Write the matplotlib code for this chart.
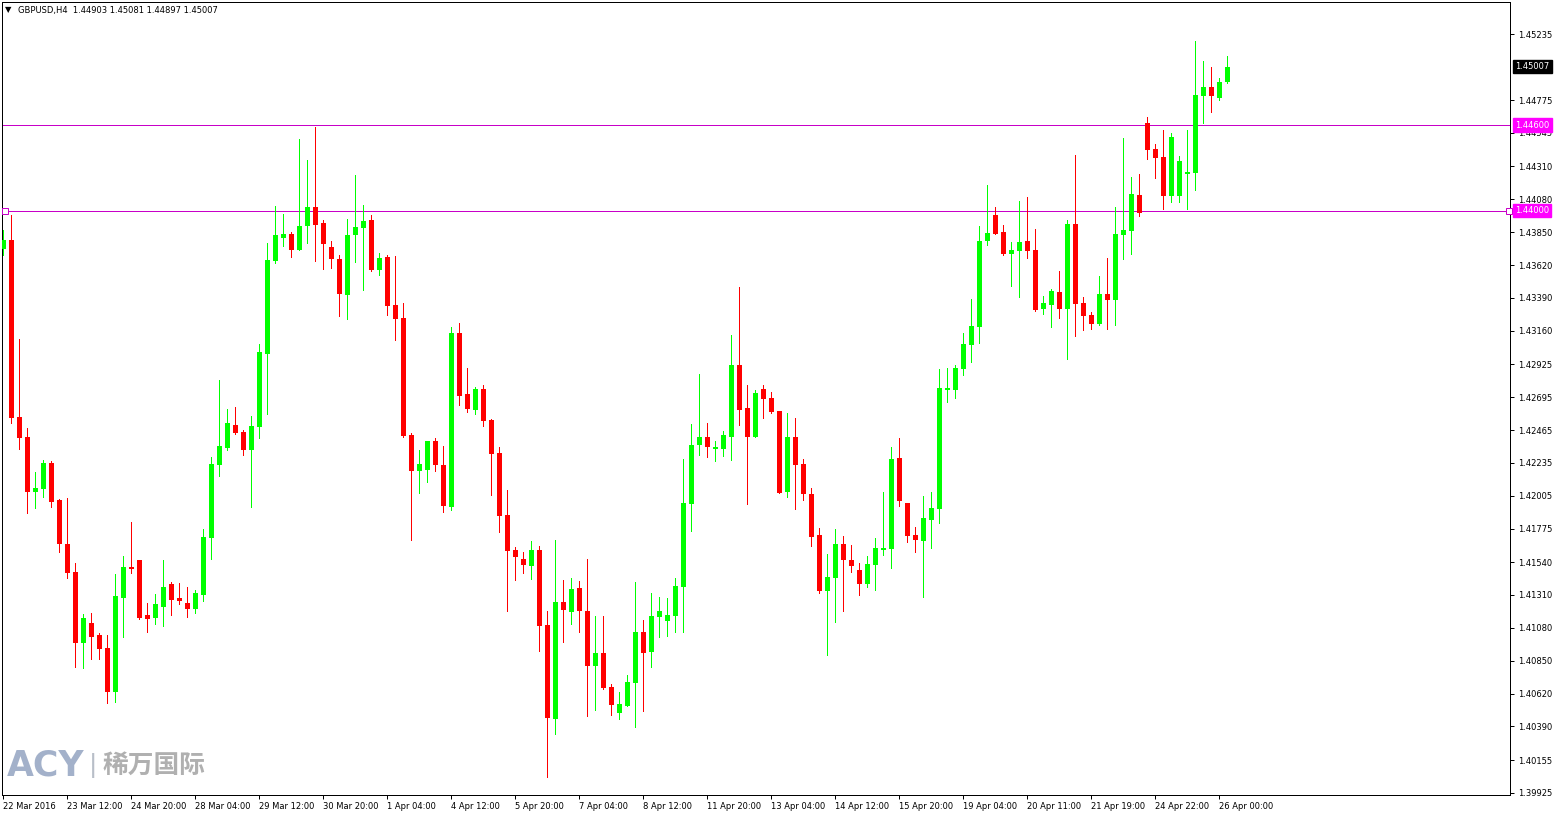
import numpy as np
import matplotlib.pyplot as plt

# GBPUSD H4 candles (index 0 = 22 Mar 2016)
opens = [
    1.43732, 1.43795, 1.42556, 1.42416, 1.42031, 1.42052, 1.42234, 1.41975, 1.41667, 1.41471,
    1.40974, 1.41114, 1.41030, 1.40939, 1.40631, 1.41289, 1.41506, 1.41555, 1.41170, 1.41149,
    1.41226, 1.41387, 1.41289, 1.41254, 1.41212, 1.41310, 1.41709, 1.42220, 1.42339, 1.42500,
    1.42451, 1.42325, 1.42486, 1.42997, 1.43648, 1.43809, 1.43837, 1.43725, 1.43893, 1.44026,
    1.43914, 1.43746, 1.43662, 1.43410, 1.43830, 1.43879, 1.43935, 1.43585, 1.43676, 1.43340,
    1.43249, 1.42430, 1.42178, 1.42185, 1.42388, 1.42220, 1.41926, 1.43144, 1.42717, 1.42605,
    1.42752, 1.42535, 1.42304, 1.41870, 1.41625, 1.41562, 1.41513, 1.41625, 1.41100, 1.40442,
    1.41261, 1.41191, 1.41359, 1.41198, 1.40813, 1.40904, 1.40666, 1.40484, 1.40533, 1.40694,
    1.41051, 1.40911, 1.41156, 1.41128, 1.41163, 1.41366, 1.41947, 1.42360, 1.42416, 1.42332,
    1.42332, 1.42416, 1.42920, 1.42619, 1.42416, 1.42752, 1.42689, 1.42598, 1.42031, 1.42416,
    1.42227, 1.42017, 1.41730, 1.41338, 1.41429, 1.41667, 1.41555, 1.41485, 1.41387, 1.41520,
    1.41625, 1.41632, 1.42269, 1.41954, 1.41730, 1.41688, 1.41835, 1.41912, 1.42745, 1.42745,
    1.42892, 1.43060, 1.43186, 1.43788, 1.43970, 1.43851, 1.43697, 1.43718, 1.43788, 1.43725,
    1.43312, 1.43340, 1.43431, 1.43312, 1.43907, 1.43354, 1.43270, 1.43207, 1.43417, 1.43375,
    1.43830, 1.43858, 1.44110, 1.44614, 1.44432, 1.44376, 1.44103, 1.44103, 1.44257, 1.44264,
    1.44803, 1.44866, 1.44789, 1.44903,
]
highs = [
    1.43865, 1.43970, 1.43102, 1.42479, 1.42171, 1.42255, 1.42248, 1.41982, 1.41989, 1.41534,
    1.41177, 1.41184, 1.41044, 1.41030, 1.41457, 1.41583, 1.41821, 1.41555, 1.41254, 1.41317,
    1.41555, 1.41401, 1.41394, 1.41366, 1.41345, 1.41772, 1.42276, 1.42815, 1.42612, 1.42626,
    1.42465, 1.42563, 1.43067, 1.43774, 1.44033, 1.43977, 1.43851, 1.44502, 1.44355, 1.44586,
    1.43935, 1.43788, 1.43690, 1.43942, 1.44250, 1.44040, 1.43970, 1.43704, 1.43690, 1.43683,
    1.43354, 1.42444, 1.42325, 1.42388, 1.42409, 1.42353, 1.43186, 1.43214, 1.42899, 1.42766,
    1.42780, 1.42542, 1.42346, 1.42045, 1.41646, 1.41611, 1.41688, 1.41653, 1.41198, 1.41695,
    1.41415, 1.41429, 1.41408, 1.41562, 1.41163, 1.41163, 1.40687, 1.40631, 1.40750, 1.41401,
    1.41135, 1.41324, 1.41296, 1.41289, 1.41429, 1.42262, 1.42507, 1.42857, 1.42514, 1.42388,
    1.42458, 1.43130, 1.43466, 1.42780, 1.42745, 1.42780, 1.42731, 1.42598, 1.42584, 1.42549,
    1.42262, 1.42059, 1.41779, 1.41597, 1.41772, 1.41723, 1.41660, 1.41534, 1.41583, 1.41709,
    1.42031, 1.42346, 1.42409, 1.41954, 1.41786, 1.42003, 1.42031, 1.42892, 1.42899, 1.42920,
    1.43144, 1.43382, 1.43893, 1.44180, 1.44026, 1.43900, 1.43781, 1.44068, 1.44096, 1.43872,
    1.43403, 1.43452, 1.43578, 1.43935, 1.44390, 1.43396, 1.43291, 1.43543, 1.43669, 1.44026,
    1.44509, 1.44236, 1.44257, 1.44656, 1.44467, 1.44565, 1.44544, 1.44383, 1.44565, 1.45188,
    1.45048, 1.45006, 1.44929, 1.45081,
]
lows = [
    1.43690, 1.42514, 1.42332, 1.41884, 1.41919, 1.41996, 1.41926, 1.41611, 1.41429, 1.40806,
    1.40799, 1.40862, 1.40862, 1.40554, 1.40561, 1.41016, 1.41464, 1.41142, 1.41051, 1.41107,
    1.41093, 1.41170, 1.41247, 1.41156, 1.41184, 1.41268, 1.41562, 1.42143, 1.42325, 1.42437,
    1.42290, 1.41926, 1.42409, 1.42577, 1.43634, 1.43753, 1.43676, 1.43725, 1.43774, 1.43648,
    1.43592, 1.43599, 1.43263, 1.43242, 1.43641, 1.43445, 1.43578, 1.43550, 1.43270, 1.43095,
    1.42416, 1.41695, 1.42024, 1.42101, 1.42178, 1.41891, 1.41905, 1.42640, 1.42591, 1.42577,
    1.42493, 1.42010, 1.41751, 1.41198, 1.41415, 1.41464, 1.41422, 1.40918, 1.40036, 1.40337,
    1.40981, 1.41107, 1.41051, 1.40463, 1.40505, 1.40652, 1.40470, 1.40442, 1.40533, 1.40386,
    1.40498, 1.40806, 1.41016, 1.41023, 1.41051, 1.41051, 1.41758, 1.42290, 1.42276, 1.42248,
    1.42283, 1.42255, 1.42500, 1.41947, 1.42416, 1.42549, 1.42584, 1.42024, 1.41996, 1.41912,
    1.41975, 1.41653, 1.41324, 1.40890, 1.41121, 1.41198, 1.41471, 1.41310, 1.41366, 1.41345,
    1.41590, 1.41499, 1.41933, 1.41681, 1.41611, 1.41296, 1.41639, 1.41814, 1.42661, 1.42689,
    1.42850, 1.42941, 1.43074, 1.43760, 1.43837, 1.43690, 1.43473, 1.43396, 1.43669, 1.43298,
    1.43277, 1.43186, 1.43249, 1.42962, 1.43123, 1.43165, 1.43172, 1.43200, 1.43172, 1.43200,
    1.43662, 1.43697, 1.43963, 1.44362, 1.44229, 1.44012, 1.44061, 1.44061, 1.44012, 1.44145,
    1.44614, 1.44691, 1.44775, 1.44897,
]
closes = [
    1.43795, 1.42549, 1.42409, 1.42031, 1.42059, 1.42234, 1.41961, 1.41667, 1.41464, 1.40974,
    1.41149, 1.41016, 1.40932, 1.40631, 1.41303, 1.41506, 1.41492, 1.41149, 1.41142, 1.41247,
    1.41366, 1.41275, 1.41268, 1.41212, 1.41324, 1.41716, 1.42227, 1.42353, 1.42514, 1.42444,
    1.42325, 1.42493, 1.43011, 1.43655, 1.43830, 1.43837, 1.43725, 1.43893, 1.44026, 1.43900,
    1.43767, 1.43662, 1.43417, 1.43830, 1.43886, 1.43928, 1.43585, 1.43669, 1.43333, 1.43242,
    1.42423, 1.42178, 1.42227, 1.42388, 1.42220, 1.41933, 1.43144, 1.42703, 1.42612, 1.42752,
    1.42528, 1.42297, 1.41863, 1.41618, 1.41576, 1.41520, 1.41625, 1.41093, 1.40449, 1.41261,
    1.41205, 1.41352, 1.41198, 1.40813, 1.40904, 1.40659, 1.40540, 1.40547, 1.40701, 1.41051,
    1.40904, 1.41163, 1.41198, 1.41170, 1.41373, 1.41954, 1.42360, 1.42416, 1.42346, 1.42346,
    1.42430, 1.42920, 1.42605, 1.42416, 1.42724, 1.42682, 1.42591, 1.42024, 1.42416, 1.42220,
    1.42017, 1.41716, 1.41338, 1.41436, 1.41667, 1.41555, 1.41513, 1.41387, 1.41527, 1.41639,
    1.41639, 1.42262, 1.41968, 1.41723, 1.41695, 1.41849, 1.41919, 1.42759, 1.42759, 1.42899,
    1.43067, 1.43193, 1.43788, 1.43844, 1.43837, 1.43697, 1.43725, 1.43781, 1.43718, 1.43305,
    1.43354, 1.43438, 1.43312, 1.43907, 1.43347, 1.43263, 1.43207, 1.43417, 1.43375, 1.43837,
    1.43865, 1.44117, 1.43984, 1.44425, 1.44369, 1.44103, 1.44516, 1.44348, 1.44271, 1.44810,
    1.44866, 1.44803, 1.44901, 1.45007,
]

date_labels = [
    "22 Mar 2016", "23 Mar 12:00", "24 Mar 20:00", "28 Mar 04:00", "29 Mar 12:00",
    "30 Mar 20:00", "1 Apr 04:00", "4 Apr 12:00", "5 Apr 20:00", "7 Apr 04:00",
    "8 Apr 12:00", "11 Apr 20:00", "13 Apr 04:00", "14 Apr 12:00", "15 Apr 20:00",
    "19 Apr 04:00", "20 Apr 11:00", "21 Apr 19:00", "24 Apr 22:00", "26 Apr 00:00",
]
price_labels = [
    "1.45235", "1.44775", "1.44545", "1.44310", "1.44080", "1.43850", "1.43620",
    "1.43390", "1.43160", "1.42925", "1.42695", "1.42465", "1.42235", "1.42005",
    "1.41775", "1.41540", "1.41310", "1.41080", "1.40850", "1.40620", "1.40390",
    "1.40155", "1.39925",
]
hlines = [1.44600, 1.44000]

W, H = 1555, 817
UP, DOWN, LINE = "#00FF00", "#FF0000", "#C800C8"
FONT = 6
PX = 0.72  # one pixel in points at 100 dpi


def main():
    o = np.array(opens)
    h = np.array(highs)
    l = np.array(lows)
    c = np.array(closes)
    idx = np.arange(len(o))
    up = c >= o
    colors = np.where(up, UP, DOWN)

    fig = plt.figure(figsize=(W / 100, H / 100), dpi=100)
    ax = fig.add_axes([2 / W, 22 / H, 1508 / W, 793 / H])

    ax.vlines(idx, l, h, colors=colors, linewidth=PX, antialiased=False, zorder=2)
    body_lo = np.minimum(o, c)
    body_h = np.maximum(np.abs(c - o), 0.00007)
    ax.bar(idx, body_h, bottom=body_lo, width=0.625, color=colors,
           linewidth=0, antialiased=False, zorder=3)

    # horizontal levels
    for lvl in hlines:
        ax.axhline(lvl, color=LINE, linewidth=PX, antialiased=False, zorder=1)
    ax.plot([0.25, 188.25], [hlines[1]] * 2, linestyle="none", marker="s",
            ms=4, mfc="white", mec=LINE, mew=PX, zorder=4, clip_on=False)

    ax.set_xlim(-0.125, 188.375)
    ax.set_ylim(1.39910, 1.45461)

    # axes look like MT4
    for sp in ax.spines.values():
        sp.set_color("black")
        sp.set_linewidth(PX)
    ax.yaxis.tick_right()
    ax.set_yticks([float(s) for s in price_labels])
    ax.set_yticklabels(price_labels)
    ax.set_xticks(np.arange(len(date_labels)) * 8)
    ax.set_xticklabels(date_labels)
    for lbl in ax.get_xticklabels():
        lbl.set_ha("left")
    ax.tick_params(axis="y", direction="out", length=3, width=PX, pad=3,
                   labelsize=FONT, colors="black")
    ax.tick_params(axis="x", direction="out", length=3, width=PX, pad=2,
                   labelsize=FONT, colors="black")

    # price labels on the right axis
    ytr = ax.get_yaxis_transform()
    ax.text(1.0035, c[-1], f"{c[-1]:.5f}", transform=ytr, fontsize=FONT,
            color="white", va="center", ha="left", zorder=6, clip_on=False,
            bbox=dict(boxstyle="square,pad=0.25", fc="black", ec="black"))
    for lvl in hlines:
        ax.text(1.0035, lvl, f"{lvl:.5f}", transform=ytr, fontsize=FONT,
                color="white", va="center", ha="left", zorder=6, clip_on=False,
                bbox=dict(boxstyle="square,pad=0.25", fc="#FF00FF", ec="#FF00FF"))

    # header
    fig.text(5 / W, 1 - 10 / H, "\u25BC", fontsize=6, va="center", ha="left")
    fig.text(18 / W, 1 - 10 / H,
             f"GBPUSD,H4  {o[-1]:.5f} {h[-1]:.5f} {l[-1]:.5f} {c[-1]:.5f}",
             fontsize=FONT, va="center", ha="left")

    # watermark
    fig.text(7 / W, 1 - 765 / H, "ACY", fontsize=25, fontweight="bold",
             color="#A3B1CA", va="center", ha="left")
    fig.text(89 / W, 1 - 765 / H, "|", fontsize=18, color="#B8BEC8",
             va="center", ha="left")
    fig.text(103 / W, 1 - 765 / H, "稀万国际", fontsize=18.5, fontweight="bold",
             color="#B0B0B0", va="center", ha="left",
             family=["Noto Sans CJK SC", "DejaVu Sans"])

    fig.savefig("out.png", dpi=100, facecolor="white")


if __name__ == "__main__":
    main()
